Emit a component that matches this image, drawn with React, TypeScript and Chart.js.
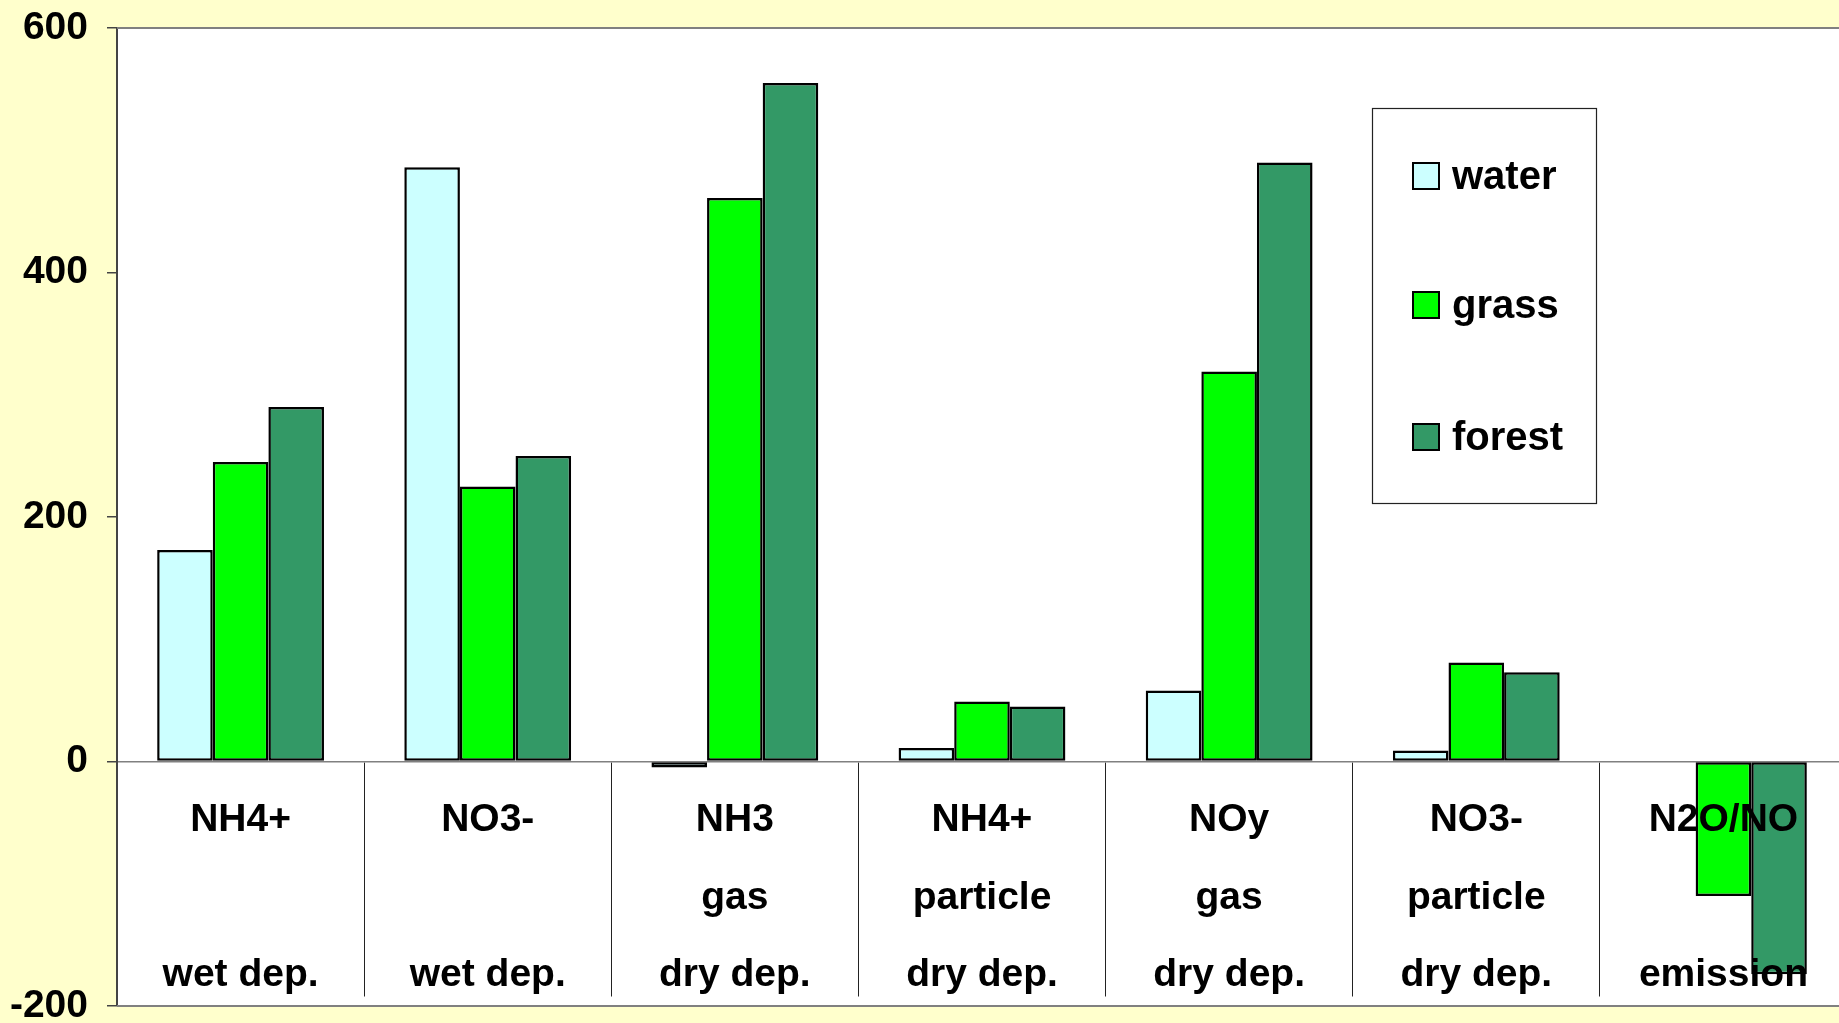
import { useEffect, useRef } from "react";
import { Chart, registerables } from "chart.js";

Chart.register(...registerables);

// Nitrogen exchange by surface type; each label is split into three lines
const categories: string[][] = [
  ["NH4+", "", "wet dep."],
  ["NO3-", "", "wet dep."],
  ["NH3", "gas", "dry dep."],
  ["NH4+", "particle", "dry dep."],
  ["NOy", "gas", "dry dep."],
  ["NO3-", "particle", "dry dep."],
  ["N2O/NO", "", "emission"],
];

const seriesNames = ["water", "grass", "forest"];
const waterValues: (number | null)[] = [173, 486, -5, 11, 58, 9, null];
const grassValues: (number | null)[] = [245, 225, 461, 49, 319, 81, -110];
const forestValues: (number | null)[] = [290, 250, 555, 45, 490, 73, -174];
const seriesColors = ["#CCFFFF", "#00FF00", "#339966"];

const yMin = -200;
const yMax = 600;
const yStep = 200;

const FONT = '"Liberation Sans", Arial, Helvetica, sans-serif';

// White plot area with a grey frame on top and bottom
const plotFrame = {
  id: "plotFrame",
  beforeDraw(chart: any) {
    const { ctx, chartArea } = chart;
    const { left, top, right, bottom } = chartArea;
    ctx.save();
    ctx.fillStyle = "#FFFFFF";
    ctx.fillRect(left, top, right - left, bottom - top);
    ctx.restore();
  },
  afterDraw(chart: any) {
    const { ctx, chartArea } = chart;
    const { left, top, right, bottom } = chartArea;
    ctx.save();
    ctx.strokeStyle = "#808080";
    ctx.lineWidth = 2;
    ctx.beginPath();
    ctx.moveTo(left, top);
    ctx.lineTo(right, top);
    ctx.moveTo(left, bottom);
    ctx.lineTo(right, bottom);
    ctx.stroke();
    ctx.restore();
  },
};

// Boxed legend placed inside the plot area
const boxedLegend = {
  id: "boxedLegend",
  afterDraw(chart: any, _args: any, opts: any) {
    const { ctx, chartArea } = chart;
    const x = chartArea.left + opts.offsetX;
    const y = chartArea.top + opts.offsetY;
    ctx.save();
    ctx.fillStyle = "#FFFFFF";
    ctx.fillRect(x, y, opts.width, opts.height);
    ctx.strokeStyle = "#222";
    ctx.lineWidth = 1.2;
    ctx.strokeRect(x + 0.5, y + 0.5, opts.width, opts.height);
    ctx.font = `bold ${opts.fontSize}px ${FONT}`;
    ctx.textBaseline = "middle";
    ctx.textAlign = "left";
    chart.data.datasets.forEach((ds: any, i: number) => {
      const cy = y + opts.rows[i];
      const s = opts.swatch;
      ctx.fillStyle = ds.backgroundColor;
      ctx.fillRect(x + opts.swatchX, cy - s / 2, s, s);
      ctx.strokeStyle = "#000";
      ctx.lineWidth = 2;
      ctx.strokeRect(x + opts.swatchX, cy - s / 2, s, s);
      ctx.fillStyle = "#000";
      ctx.fillText(ds.label, x + opts.textX, cy + 2);
    });
    ctx.restore();
  },
};

export default function App() {
  const canvasRef = useRef<HTMLCanvasElement | null>(null);

  useEffect(() => {
    const canvas = canvasRef.current;
    if (!canvas) return;
    const valueSets = [waterValues, grassValues, forestValues];
    const chart = new Chart(canvas, {
      type: "bar",
      data: {
        labels: categories,
        datasets: seriesNames.map((name, i) => ({
          label: name,
          data: valueSets[i],
          backgroundColor: seriesColors[i],
          borderColor: "#000000",
          borderWidth: 2.5,
          borderSkipped: false,
          barPercentage: 1,
          categoryPercentage: 0.675,
        })),
      },
      plugins: [plotFrame, boxedLegend],
      options: {
        responsive: false,
        devicePixelRatio: 1,
        animation: false,
        layout: { padding: { left: 0, top: 28, right: 3, bottom: 17 } },
        plugins: {
          legend: { display: false },
          tooltip: { enabled: false },
          boxedLegend: {
            offsetX: 1255,
            offsetY: 80,
            width: 224,
            height: 395,
            swatch: 26,
            swatchX: 41,
            textX: 80,
            fontSize: 40,
            rows: [68, 197, 329],
          },
        } as any,
        scales: {
          x: {
            type: "category",
            position: { y: 0 } as any,
            offset: true,
            afterFit(scale: any) {
              scale.paddingLeft = 0;
              scale.paddingRight = 0;
            },
            grid: {
              offset: true,
              drawOnChartArea: false,
              drawTicks: true,
              tickLength: 234,
              color: "#222222",
              lineWidth: 1,
            },
            border: { display: true, color: "#808080", width: 1.5 },
            ticks: {
              z: 1,
              autoSkip: false,
              maxRotation: 0,
              minRotation: 0,
              padding: -214,
              color: "#000000",
              font: { family: FONT, size: 39, weight: "bold", lineHeight: 1.99 },
            },
          },
          y: {
            min: yMin,
            max: yMax,
            afterFit(scale: any) {
              scale.width = 117;
              scale.paddingTop = 0;
              scale.paddingBottom = 0;
            },
            grid: {
              drawOnChartArea: false,
              drawTicks: true,
              tickLength: 10,
              color: "#444444",
              lineWidth: 1.5,
            },
            border: { display: true, color: "#444444", width: 2 },
            ticks: {
              stepSize: yStep,
              padding: 19,
              color: "#000000",
              font: { family: FONT, size: 39, weight: "bold" },
            },
          },
        },
      },
    });
    return () => chart.destroy();
  }, []);

  return (
    <div
      style={{
        position: "fixed",
        left: 0,
        top: 0,
        width: 1839,
        height: 1023,
        overflow: "hidden",
        background: "#FFFFCC",
      }}
    >
      <canvas ref={canvasRef} width={1850} height={1023} style={{ display: "block" }} />
    </div>
  );
}
